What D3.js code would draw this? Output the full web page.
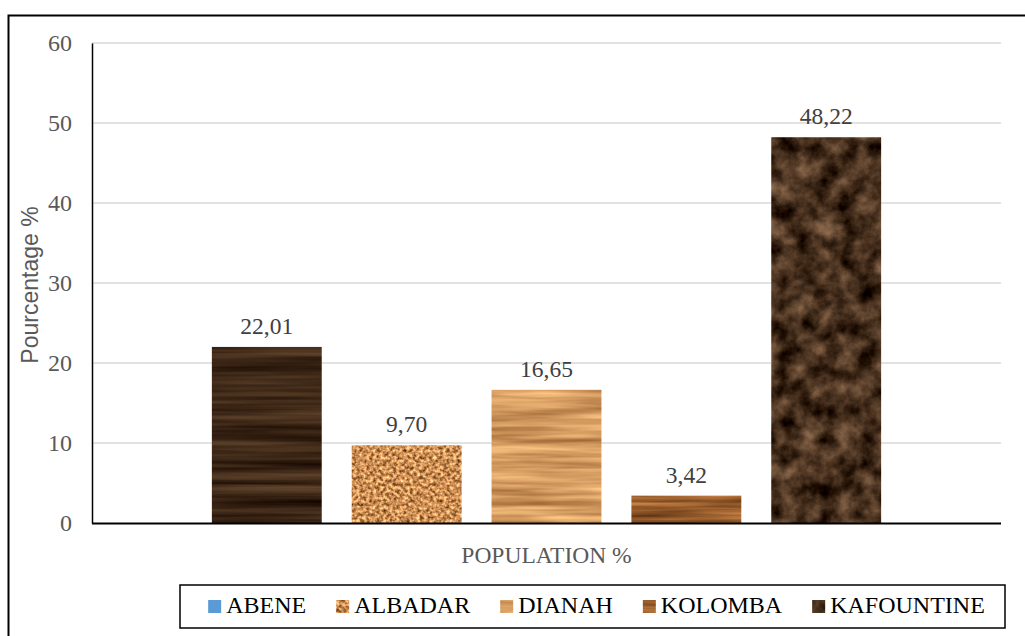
<!DOCTYPE html>
<html>
<head>
<meta charset="utf-8">
<script src="https://cdn.jsdelivr.net/npm/d3@7"></script>
<style>
  html, body { margin: 0; padding: 0; background: #fff; }
  svg { display: block; }
</style>
</head>
<body>
<svg id="chart" width="1025" height="636"></svg>
<script>
// Population share by village
const categories = ["ABENE", "ALBADAR", "DIANAH", "KOLOMBA", "KAFOUNTINE"];
const values = [22.01, 9.70, 16.65, 3.42, 48.22];
const groupLabel = "POPULATION %";
const yTicks = [0, 10, 20, 30, 40, 50, 60];

const W = 1025, H = 636;
const plot = { left: 92, right: 1001, top: 43, bottom: 523 };
const SERIF = "'Liberation Serif', Tinos, 'Times New Roman', Times, serif";
const SANS = "'Liberation Sans', Arimo, Arial, sans-serif";

const svg = d3.select("#chart");
const defs = svg.append("defs");

// Procedural textures: noise channel mapped into a colour ramp, clipped to the shape
function texture(id, type, freq, octaves, seed, rgbSlope, rgbOffset) {
  const f = defs.append("filter").attr("id", id)
    .attr("x", 0).attr("y", 0).attr("width", 1).attr("height", 1)
    .attr("color-interpolation-filters", "sRGB");
  f.append("feTurbulence").attr("type", type).attr("baseFrequency", freq)
    .attr("numOctaves", octaves).attr("seed", seed).attr("result", "n");
  const m = [
    rgbSlope[0], 0, 0, 0, rgbOffset[0],
    rgbSlope[1], 0, 0, 0, rgbOffset[1],
    rgbSlope[2], 0, 0, 0, rgbOffset[2],
    0, 0, 0, 0, 1
  ].join(" ");
  f.append("feColorMatrix").attr("in", "n").attr("type", "matrix").attr("values", m).attr("result", "c");
  f.append("feComposite").attr("in", "c").attr("in2", "SourceGraphic").attr("operator", "in");
}
// dark walnut wood
texture("tex-walnut", "fractalNoise", "0.004 0.15", 3, 3, [0.4, 0.33, 0.24], [0.04, -0.01, -0.03]);
// cork speckle
texture("tex-cork", "fractalNoise", "0.3", 2, 7, [1.3, 1.1, 0.85], [0.15, 0.01, -0.09]);
// light oak wood
texture("tex-oak", "fractalNoise", "0.008 0.13", 3, 11, [0.55, 0.55, 0.45], [0.55, 0.33, 0.15]);
// medium wood
texture("tex-teak", "fractalNoise", "0.006 0.15", 3, 5, [0.8, 0.6, 0.4], [0.20, 0.07, -0.02]);
// dark marble, mottled
texture("tex-marble", "fractalNoise", "0.05", 6, 2, [0.75, 0.62, 0.5], [-0.095, -0.12, -0.13]);

const barFilter = ["tex-walnut", "tex-cork", "tex-oak", "tex-teak", "tex-marble"];
const swatchFill = ["#5B9BD5", null, null, null, null];
const swatchFilter = [null, "tex-cork", "tex-oak", "tex-teak", "tex-marble"];

// outer frame (top and left edges)
svg.append("path")
  .attr("d", `M8.5,${H} V15.5 H${W}`)
  .attr("fill", "none").attr("stroke", "#000").attr("stroke-width", 2);

// scales
const y = d3.scaleLinear().domain([0, 60]).range([plot.bottom, plot.top]);
const x0 = d3.scaleBand().domain([groupLabel]).range([plot.left, plot.right])
  .paddingInner(0).paddingOuter(0.15);
const x1 = d3.scaleBand().domain(categories).range([0, x0.bandwidth()])
  .paddingInner(0.2143).paddingOuter(0.1071);

// gridlines
svg.append("g").selectAll("line").data(yTicks.filter(t => t > 0)).join("line")
  .attr("x1", plot.left).attr("x2", plot.right)
  .attr("y1", d => y(d)).attr("y2", d => y(d))
  .attr("stroke", "#d9d9d9").attr("stroke-width", 1.5);

// y axis
const yAxis = svg.append("g")
  .attr("transform", `translate(${plot.left},0)`)
  .call(d3.axisLeft(y).tickValues(yTicks).tickSize(0).tickPadding(20).tickFormat(d3.format("d")));
yAxis.attr("font-family", null).attr("font-size", null);
yAxis.select(".domain").attr("stroke", "#000").attr("stroke-width", 1.5);
yAxis.selectAll("text")
  .style("font-family", SERIF).style("font-size", "24px").attr("fill", "#595959");

// bars
const gBars = svg.append("g").attr("transform", `translate(${x0(groupLabel)},0)`);
gBars.selectAll("rect").data(categories).join("rect")
  .attr("x", d => x1(d))
  .attr("width", x1.bandwidth())
  .attr("y", (d, i) => y(values[i]))
  .attr("height", (d, i) => y(0) - y(values[i]))
  .attr("fill", "#000")
  .attr("filter", (d, i) => `url(#${barFilter[i]})`);

// x axis baseline
svg.append("line")
  .attr("x1", plot.left).attr("x2", plot.right)
  .attr("y1", y(0) + 0.5).attr("y2", y(0) + 0.5)
  .attr("stroke", "#000").attr("stroke-width", 2);

// value labels
const fmt = v => d3.format(".2f")(v).replace(".", ",");
gBars.selectAll("text.val").data(categories).join("text")
  .attr("class", "val")
  .attr("x", d => x1(d) + x1.bandwidth() / 2)
  .attr("y", (d, i) => y(values[i]) - 13)
  .attr("text-anchor", "middle")
  .style("font-family", SERIF).style("font-size", "23.5px").attr("fill", "#404040")
  .text((d, i) => fmt(values[i]));

// category label
svg.append("text")
  .attr("x", x0(groupLabel) + x0.bandwidth() / 2).attr("y", 563)
  .attr("text-anchor", "middle")
  .style("font-family", SERIF).style("font-size", "23.5px").attr("fill", "#595959")
  .text(groupLabel);

// y axis title
svg.append("text")
  .attr("transform", "translate(38,285) rotate(-90)")
  .attr("text-anchor", "middle")
  .style("font-family", SANS).style("font-size", "23px").attr("fill", "#595959")
  .text("Pourcentage %");

// legend
const legendBox = { x: 180, y: 585, w: 825, h: 43 };
svg.append("rect")
  .attr("x", legendBox.x).attr("y", legendBox.y)
  .attr("width", legendBox.w).attr("height", legendBox.h)
  .attr("fill", "#fff").attr("stroke", "#000").attr("stroke-width", 1.5);

const lg = svg.append("g");
const items = lg.selectAll("g").data(categories).join("g");
items.append("rect")
  .attr("width", 13).attr("height", 13).attr("y", -13)
  .attr("fill", (d, i) => swatchFill[i] || "#000")
  .attr("filter", (d, i) => swatchFilter[i] ? `url(#${swatchFilter[i]})` : null);
items.append("text")
  .attr("x", 18).attr("y", 0)
  .style("font-family", SERIF).style("font-size", "24px").attr("fill", "#000")
  .text(d => d);

// lay items out left to right, then centre the row in the box
let cx = 0;
items.each(function () {
  const g = d3.select(this);
  const tw = g.select("text").node().getComputedTextLength();
  g.attr("transform", `translate(${cx},0)`);
  cx += 18 + tw + 30;
});
const rowW = cx - 30;
const startX = 596.5 - rowW / 2;
lg.attr("transform", `translate(${startX},${613})`);
</script>
</body>
</html>
